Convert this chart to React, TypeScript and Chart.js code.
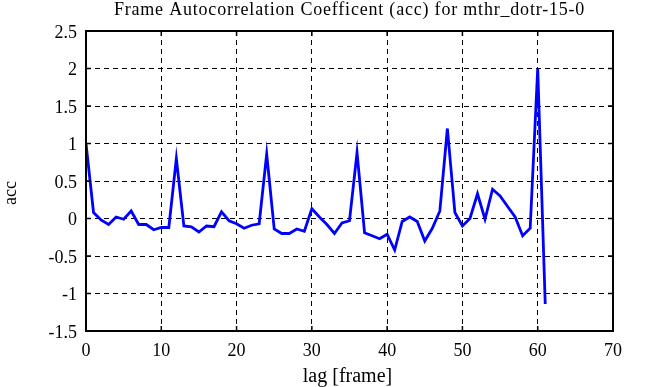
import React, { useEffect, useRef } from "react";
import { Chart, registerables } from "chart.js";

Chart.register(...registerables);

const TITLE = "Frame Autocorrelation Coefficent (acc) for mthr_dotr-15-0";
const X_LABEL = "lag [frame]";
const Y_LABEL = "acc";

const lags = [
  0, 1, 2, 3, 4, 5, 6, 7, 8, 9, 10, 11, 12, 13, 14, 15, 16, 17, 18, 19, 20,
  21, 22, 23, 24, 25, 26, 27, 28, 29, 30, 31, 32, 33, 34, 35, 36, 37, 38, 39,
  40, 41, 42, 43, 44, 45, 46, 47, 48, 49, 50, 51, 52, 53, 54, 55, 56, 57, 58,
  59, 60, 61,
];
const acc = [
  1.0, 0.08, -0.02, -0.08, 0.02, -0.01, 0.1, -0.08, -0.08, -0.15, -0.12, -0.12,
  0.8, -0.1, -0.11, -0.18, -0.1, -0.11, 0.09, -0.03, -0.07, -0.13, -0.09,
  -0.07, 0.86, -0.14, -0.2, -0.2, -0.14, -0.17, 0.13, 0.02, -0.08, -0.2, -0.06,
  -0.03, 0.88, -0.19, -0.23, -0.27, -0.21, -0.42, -0.04, 0.02, -0.04, -0.3,
  -0.13, 0.1, 1.2, 0.08, -0.1, 0.0, 0.33, -0.01, 0.39, 0.3, 0.16, 0.02, -0.23,
  -0.13, 2.0, -1.14,
];
const xTicks = [0, 10, 20, 30, 40, 50, 60, 70];
const yTicks = [-1.5, -1, -0.5, 0, 0.5, 1, 1.5, 2, 2.5];

const FONT = "'Liberation Serif', 'Times New Roman', serif";

const framePlugin = {
  id: "matlabFrame",
  afterDraw(chart: any) {
    const { ctx, chartArea } = chart;
    const { left, right, top, bottom } = chartArea;
    const xs = chart.scales.x;
    const ys = chart.scales.y;
    ctx.save();
    ctx.strokeStyle = "#000";
    ctx.lineWidth = 1.5;
    const tl = 5;
    ctx.beginPath();
    xTicks.forEach((t) => {
      const px = xs.getPixelForValue(t);
      ctx.moveTo(px, bottom);
      ctx.lineTo(px, bottom - tl);
      ctx.moveTo(px, top);
      ctx.lineTo(px, top + tl);
    });
    yTicks.forEach((t) => {
      const py = ys.getPixelForValue(t);
      ctx.moveTo(left, py);
      ctx.lineTo(left + tl, py);
      ctx.moveTo(right, py);
      ctx.lineTo(right - tl, py);
    });
    ctx.stroke();
    ctx.lineWidth = 2;
    ctx.strokeRect(left, top, right - left, bottom - top);

    ctx.fillStyle = "#000";
    ctx.textAlign = "center";
    ctx.textBaseline = "alphabetic";
    const cx = (left + right) / 2;
    ctx.font = `18px ${FONT}`;
    try {
      (ctx as any).letterSpacing = "0.8px";
    } catch (e) {}
    ctx.fillText(TITLE, cx, 15);
    try {
      (ctx as any).letterSpacing = "0px";
    } catch (e) {}
    ctx.font = `20px ${FONT}`;
    ctx.fillText(X_LABEL, cx - 2, 382);
    ctx.save();
    ctx.translate(16, (top + bottom) / 2 + 12);
    ctx.rotate(-Math.PI / 2);
    ctx.font = `18px ${FONT}`;
    ctx.fillText(Y_LABEL, 0, 0);
    ctx.restore();
    ctx.restore();
  },
};

export default function App() {
  const ref = useRef<HTMLCanvasElement | null>(null);
  useEffect(() => {
    document.body.style.margin = "0";
    const canvas = ref.current;
    if (!canvas) return;
    const chart = new Chart(canvas, {
      type: "line",
      data: {
        datasets: [
          {
            data: lags.map((l, i) => ({ x: l, y: acc[i] })),
            borderColor: "#0000ff",
            backgroundColor: "#0000ff",
            borderWidth: 2.8,
            pointRadius: 0,
            tension: 0,
            fill: false,
          },
        ],
      },
      options: {
        animation: false,
        responsive: false,
        maintainAspectRatio: false,
        layout: { padding: { top: 31, right: 33, left: 0, bottom: 0 } },
        plugins: {
          legend: { display: false },
          title: { display: false },
          tooltip: { enabled: false },
        },
        scales: {
          x: {
            type: "linear",
            min: 0,
            max: 70,
            afterFit: (s: any) => {
              s.height = 56;
            },
            afterBuildTicks: (s: any) => {
              s.ticks = xTicks.map((v) => ({ value: v }));
            },
            ticks: {
              color: "#000",
              font: { family: FONT, size: 18 },
              padding: 9,
              maxRotation: 0,
              callback: (v: any) => String(v),
            },
            grid: {
              color: "#000",
              lineWidth: 1,
              drawTicks: false,
            },
            border: { display: false, dash: [5, 4] },
          },
          y: {
            type: "linear",
            min: -1.5,
            max: 2.5,
            afterFit: (s: any) => {
              s.width = 86;
            },
            afterBuildTicks: (s: any) => {
              s.ticks = yTicks.map((v) => ({ value: v }));
            },
            ticks: {
              color: "#000",
              font: { family: FONT, size: 18 },
              padding: 9,
              labelOffset: 2,
              callback: (v: any) => String(v),
            },
            grid: {
              color: "#000",
              lineWidth: 1,
              drawTicks: false,
            },
            border: { display: false, dash: [5, 4] },
          },
        },
      },
      plugins: [framePlugin],
    });
    return () => chart.destroy();
  }, []);
  return (
    <div style={{ width: 646, height: 387, background: "#fff" }}>
      <canvas ref={ref} width={646} height={387} />
    </div>
  );
}
